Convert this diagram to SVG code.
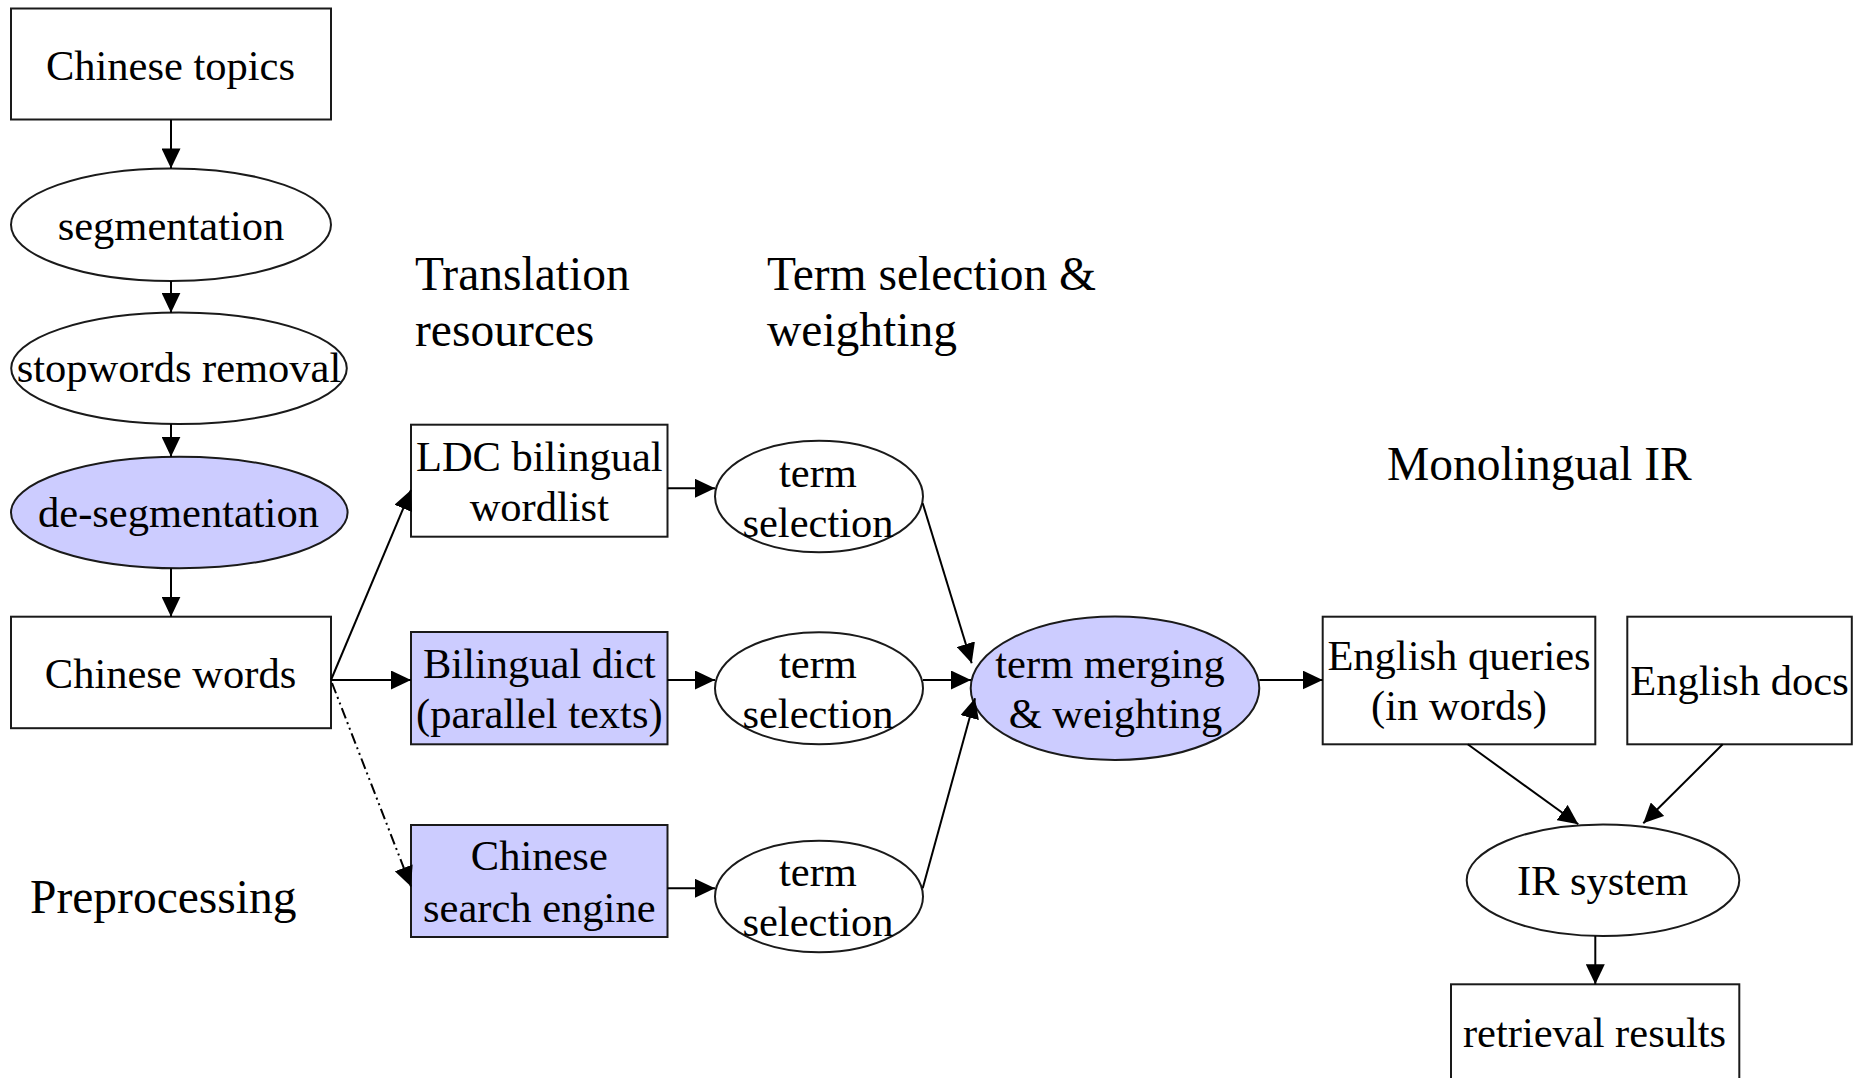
<svg xmlns="http://www.w3.org/2000/svg" width="1859" height="1078" viewBox="0 0 1859 1078">
  <style>
    .box { fill: #ffffff; stroke: #1a1a1a; stroke-width: 2; }
    .hl { fill: #ccccff; }
    .lbl { font-family: "Liberation Serif", "Times New Roman", serif; font-size: 42.5px; fill: #000; text-anchor: middle; }
    .head { font-family: "Liberation Serif", "Times New Roman", serif; font-size: 47.5px; fill: #000; }
    .edge { fill: none; stroke: #000; stroke-width: 2; marker-end: url(#arrow); }
    .alt { stroke-dasharray: 11 4 2 4 2 4; }
  </style>
  <defs>
    <marker id="arrow" markerUnits="userSpaceOnUse" markerWidth="20" markerHeight="19" refX="20" refY="9.5" orient="auto">
      <path d="M0,0 L20,9.5 L0,19 z" fill="#000"/>
    </marker>
  </defs>
  <rect width="1859" height="1078" fill="#ffffff"/>

  <!-- section headings -->
  <g id="headings">
    <text class="head" x="415" y="290">Translation</text>
    <text class="head" x="415" y="346">resources</text>
    <text class="head" x="767" y="290">Term selection &amp;</text>
    <text class="head" x="767" y="346">weighting</text>
    <text class="head" x="1387" y="480">Monolingual IR</text>
    <text class="head" x="30" y="913">Preprocessing</text>
  </g>

  <!-- preprocessing column -->
  <g id="chinese-topics">
    <rect class="box" x="11" y="8.5" width="320" height="111"/>
    <text class="lbl" x="170.5" y="79.5">Chinese topics</text>
  </g>
  <g id="segmentation">
    <ellipse class="box" cx="171" cy="224.7" rx="160" ry="56.3"/>
    <text class="lbl" x="171" y="239.5">segmentation</text>
  </g>
  <g id="stopwords-removal">
    <ellipse class="box" cx="179" cy="368.3" rx="167.8" ry="55.7"/>
    <text class="lbl" x="179" y="382">stopwords removal</text>
  </g>
  <g id="de-segmentation">
    <ellipse class="box hl" cx="179.3" cy="512.5" rx="168.3" ry="55.8"/>
    <text class="lbl" x="178.5" y="527">de-segmentation</text>
  </g>
  <g id="chinese-words">
    <rect class="box" x="11" y="616.7" width="320" height="111.5"/>
    <text class="lbl" x="170.5" y="687.5">Chinese words</text>
  </g>

  <!-- translation resources -->
  <g id="ldc-wordlist">
    <rect class="box" x="411" y="424.7" width="256.5" height="112"/>
    <text class="lbl" x="539.3" y="470.7">LDC bilingual</text>
    <text class="lbl" x="539.3" y="521">wordlist</text>
  </g>
  <g id="bilingual-dict">
    <rect class="box hl" x="411" y="632" width="256.5" height="112.3"/>
    <text class="lbl" x="539.3" y="678.3">Bilingual dict</text>
    <text class="lbl" x="539.3" y="728.3">(parallel texts)</text>
  </g>
  <g id="search-engine">
    <rect class="box hl" x="411" y="825" width="256.5" height="112"/>
    <text class="lbl" x="539.3" y="870">Chinese</text>
    <text class="lbl" x="539.3" y="921.5">search engine</text>
  </g>

  <!-- term selection -->
  <g id="term-selection-1">
    <ellipse class="box" cx="819" cy="496.5" rx="104" ry="55.8"/>
    <text class="lbl" x="818" y="486.7">term</text>
    <text class="lbl" x="818" y="536.7">selection</text>
  </g>
  <g id="term-selection-2">
    <ellipse class="box" cx="819" cy="688.3" rx="104" ry="56"/>
    <text class="lbl" x="818" y="678.3">term</text>
    <text class="lbl" x="818" y="728.3">selection</text>
  </g>
  <g id="term-selection-3">
    <ellipse class="box" cx="819" cy="896.5" rx="104" ry="55.8"/>
    <text class="lbl" x="818" y="885.5">term</text>
    <text class="lbl" x="818" y="936">selection</text>
  </g>
  <g id="term-merging">
    <ellipse class="box hl" cx="1115" cy="688.3" rx="144.3" ry="71.7"/>
    <text class="lbl" x="1110" y="678.3">term merging</text>
    <text class="lbl" x="1115.5" y="728.3">&amp; weighting</text>
  </g>

  <!-- monolingual IR -->
  <g id="english-queries">
    <rect class="box" x="1322.7" y="616.7" width="272.6" height="127.6"/>
    <text class="lbl" x="1459" y="670">English queries</text>
    <text class="lbl" x="1459" y="720">(in words)</text>
  </g>
  <g id="english-docs">
    <rect class="box" x="1627.3" y="616.7" width="224.5" height="127.6"/>
    <text class="lbl" x="1739.5" y="695">English docs</text>
  </g>
  <g id="ir-system">
    <ellipse class="box" cx="1603" cy="880.2" rx="136.3" ry="55.8"/>
    <text class="lbl" x="1602.5" y="895">IR system</text>
  </g>
  <g id="retrieval-results">
    <rect class="box" x="1451" y="984.3" width="288.3" height="110"/>
    <text class="lbl" x="1594.5" y="1047">retrieval results</text>
  </g>

  <!-- connectors -->
  <g id="connectors">
    <line class="edge" x1="171" y1="119.7" x2="171" y2="168.4"/>
    <line class="edge" x1="171" y1="281" x2="171" y2="312.7"/>
    <line class="edge" x1="171" y1="424" x2="171" y2="456.7"/>
    <line class="edge" x1="171" y1="568.3" x2="171" y2="616.7"/>

    <line class="edge" x1="331" y1="680" x2="411" y2="490"/>
    <line class="edge" x1="331" y1="680" x2="411" y2="680"/>
    <line class="edge alt" x1="332" y1="683" x2="411" y2="886.5"/>

    <line class="edge" x1="667.5" y1="488.3" x2="715" y2="488.3"/>
    <line class="edge" x1="667.5" y1="680" x2="715" y2="680"/>
    <line class="edge" x1="667.5" y1="888.3" x2="715" y2="888.3"/>

    <line class="edge" x1="922.7" y1="503.3" x2="971.7" y2="663.3"/>
    <line class="edge" x1="923" y1="680" x2="971" y2="680"/>
    <line class="edge" x1="922.7" y1="888.3" x2="975" y2="698.3"/>

    <line class="edge" x1="1259.3" y1="680" x2="1322.7" y2="680"/>
    <line class="edge" x1="1467.7" y1="744.3" x2="1578.3" y2="824.3"/>
    <line class="edge" x1="1722.7" y1="744.3" x2="1643.3" y2="823.3"/>
    <line class="edge" x1="1595.3" y1="936" x2="1595.3" y2="984.3"/>
  </g>
</svg>
